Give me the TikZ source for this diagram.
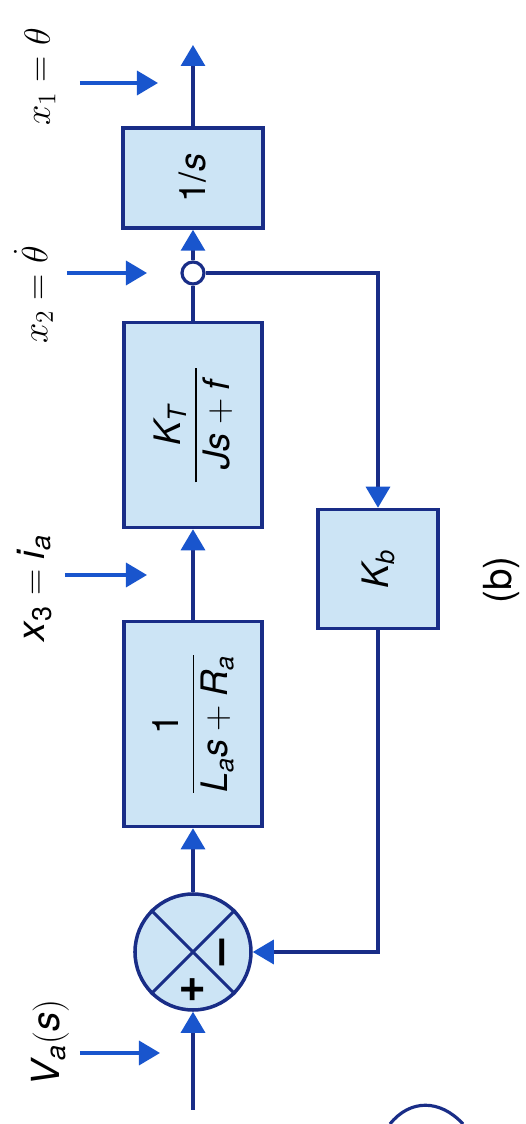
\documentclass[tikz,border=0pt]{standalone}
\usepackage{amsmath}
\usepackage{fontspec}
\setmainfont{TeX Gyre Heros}
\usetikzlibrary{arrows.meta, positioning}

\definecolor{boxfill}{RGB}{204,228,245}
\definecolor{edge}{RGB}{25,45,135}
\definecolor{tipblue}{RGB}{25,85,205}

\newcommand{\blk}{\fontsize{20.74}{25}\selectfont}
\newcommand{\lbl}{\fontsize{22}{26}\selectfont}
\newcommand{\sgn}{\fontsize{27}{30}\selectfont\bfseries}

\begin{document}
\begin{tikzpicture}[rotate=90, transform shape, node distance=5.98cm,
    >={Triangle[length=0.42cm, width=0.48cm, color=tipblue]},
    block/.style={draw=edge, fill=boxfill, line width=2pt, inner sep=0pt,
      minimum width=4.1cm, minimum height=2.76cm, font=\blk},
    sumnode/.style={circle, draw=edge, fill=boxfill, line width=2pt,
      inner sep=0pt, minimum size=2.32cm},
    pickoff/.style={circle, draw=edge, fill=white, line width=1.8pt,
      inner sep=0pt, minimum size=0.44cm},
    wire/.style={draw=edge, line width=1.8pt},
    pointer/.style={->, draw=tipblue, line width=2pt},
    tag/.style={font=\lbl, anchor=base, inner sep=0pt}]
  \useasboundingbox (0,0) rectangle (22.48,10.5);

  % forward path
  \coordinate (in) at (0.28,6.64);
  \node (sum) [sumnode] at (3.44,6.64) {};
  \node (G1) [block, right of=sum, node distance=4.56cm]
    {$\dfrac{\textup{1}}{\textit{L}_{\textit{a}}\textit{s}+\textit{R}_{\textit{a}}}$};
  \node (G2) [block, right of=G1]
    {$\dfrac{\textit{K}_{\textit{T}}}{\hspace{0.35em}\textit{Js}+\textit{f}\hspace{0.35em}}$};
  \node (pick) [pickoff, right of=G2, node distance=3.04cm] {};
  \node (G3) [block, minimum width=2cm, minimum height=2.8cm,
    right of=pick, node distance=1.9cm] {\textup{1}/\textit{s}};
  \coordinate (out) at (21.58,6.64);

  % feedback block
  \node (Kb) [block, minimum width=2.38cm, minimum height=2.4cm] at (11.1,2.94)
    {$\textit{K}_{\textit{b}}$};

  % summing point
  \draw[wire] (sum.north west) -- (sum.south east);
  \draw[wire] (sum.north east) -- (sum.south west);
  \node (plus) [font=\sgn] at (2.68,6.64) {+};
  \node (minus) [font=\sgn] at (3.44,5.96) {--};

  \draw[wire, ->] (in) -- (sum);
  \draw[wire, ->] (sum) -- (G1);
  \draw[wire, ->] (G1) -- (G2);
  \draw[wire] (G2) -- (pick);
  \draw[wire, ->] (pick) -- (G3);
  \draw[wire, ->] (G3) -- (out);
  \draw[wire, ->] (pick) |- (Kb.east);
  \draw[wire, ->] (Kb.west) -| (sum.south);

  % state variables
  \node (Va) [tag] at (1.62,9.3) {$\textit{V}_{\textit{a}}(\textit{s})$};
  \node (x3) [tag] at (10.72,9.6) {$\textit{x}_{\textup{3}}=\textit{i}_{\textit{a}}$};
  \node (x2) [tag] at (16.58,9.55) {$x_2=\dot{\theta}$};
  \node (x1) [tag] at (20.94,9.5) {$x_1=\theta$};

  \coordinate (VaA) at (1.42,8.9);   \coordinate (VaB) at (1.42,7.3);
  \coordinate (x3A) at (10.98,9.2);  \coordinate (x3B) at (10.98,7.56);
  \coordinate (x2A) at (17.02,9.16); \coordinate (x2B) at (17.02,7.56);
  \coordinate (x1A) at (20.82,8.9);  \coordinate (x1B) at (20.82,7.34);
  \draw[pointer] (VaA) -- (VaB);
  \draw[pointer] (x3A) -- (x3B);
  \draw[pointer] (x2A) -- (x2B);
  \draw[pointer] (x1A) -- (x1B);

  \node (cap) [font=\lbl] at (10.88,0.46) {(b)};

  % edge of the next figure
  \draw[wire] (0,2.7) .. controls (0.5,2.3) and (0.5,1.7) .. (0,1.24);
\end{tikzpicture}
\end{document}
